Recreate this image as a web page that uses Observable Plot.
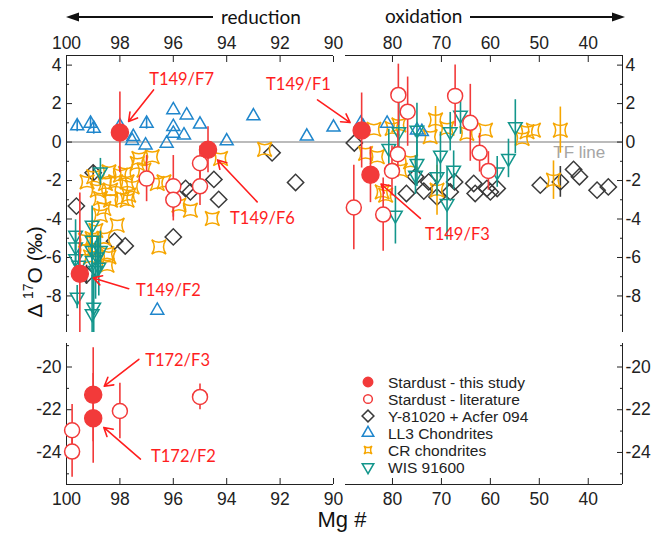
<!DOCTYPE html>
<html><head><meta charset="utf-8">
<script src="https://cdn.jsdelivr.net/npm/d3@7"></script>
<script src="https://cdn.jsdelivr.net/npm/@observablehq/plot@0.6"></script>
<style>
body{margin:0;background:#fff;}
#chart{position:relative;width:654px;height:534px;background:#fff;}
#chart svg{position:absolute;left:0;top:0;}
</style></head><body><div id="chart"></div>
<script>
// ---------- axis domains & ticks ----------
const xLeftDomain = [100, 90];
const xRightDomain = [89.6, 33];
const yTopDomain = [-9.9, 4.5];
const yBottomDomain = [-25.5, -18.9];
const xTicksLeft = [100, 98, 96, 94, 92, 90];
const xTicksRight = [80, 70, 60, 50, 40];
const yTicksTop = [4, 2, 0, -2, -4, -6, -8];
const yMinorTop = [3, 1, -1, -3, -5, -7, -9];
const yTicksBottom = [-20, -22, -24];
const yMinorBottom = [-19, -21, -23, -25];

// ---------- data: [Mg#, Δ17O, error] ----------
const thisStudyLabels = ["T149/F7", "T149/F6", "T149/F2", "T149/F1", "T149/F3", "T172/F3", "T172/F2"];
const thisStudy = [
  [98.0, 0.5, 2.1], [94.7, -0.4, 1.2], [99.5, -6.85, 4.2], [86.3, 0.6, 1.95],
  [84.5, -1.7, 1.45], [99.0, -21.3, 2.2], [99.0, -22.4, 2.1]
];
const literature = [
  [97.0, -1.9, 1.2], [96.0, -2.3, 1.6], [96.0, -3.0, 1.1], [95.0, -1.1, 0.9], [95.0, -2.3, 1.0],
  [78.8, 2.45, 1.6], [76.9, 1.58, 1.8], [67.2, 2.4, 1.6], [64.1, 1.0, 2.0], [62.2, -0.56, 1.0],
  [60.4, -1.5, 1.0], [80.1, -1.5, 1.3], [78.9, -0.63, 1.2], [87.9, -3.4, 2.2], [81.9, -3.77, 1.9],
  [99.79, -22.96, 1.2], [99.79, -23.96, 1.2], [98.0, -22.06, 1.3], [95.0, -21.4, 0.6]
];
const y81020Acfer = [
  [99.63, -3.33, 0], [99.0, -1.6, 0.4], [99.25, -6.9, 0.5], [98.2, -5.15, 0], [97.8, -5.4, 0],
  [96.0, -4.93, 0], [95.54, -2.41, 0], [95.36, -2.59, 0], [94.48, -1.94, 0], [94.3, -2.98, 0],
  [92.3, -0.56, 0], [91.42, -2.1, 0],
  [87.8, -0.05, 0], [77.15, -2.67, 0], [75.3, -1.8, 0], [73.6, -2.55, 0], [72.6, -2.07, 0],
  [70.9, -2.85, 0], [68.2, -2.59, 0], [67.3, -2.07, 0], [63.4, -2.15, 0], [63.1, -2.67, 0],
  [60.7, -2.41, 0], [60.0, -2.59, 0], [58.6, -2.41, 0], [49.8, -2.24, 0], [45.7, -2.07, 0.8],
  [43.0, -1.42, 0], [41.8, -1.8, 0], [38.2, -2.5, 0], [35.9, -2.33, 0]
];
const ll3 = [
  [99.6, 0.83, 0.3], [99.1, 0.97, 0.3], [98.98, 0.71, 0.3], [98.0, 0.83, 0], [97.5, 0.28, 0],
  [97.0, 0.97, 0.3], [96.0, 1.67, 0], [95.5, 1.4, 0], [95.0, 0.92, 0], [96.0, 0.8, 0],
  [96.0, 0.45, 0], [95.6, 0.36, 0], [93.0, 1.35, 0], [94.0, 0.05, 0], [91.0, 0.3, 0],
  [90.0, 0.77, 0], [97.54, 0.07, 0], [97.04, -0.16, 0], [96.25, -0.07, 0], [96.6, -8.75, 0],
  [86.5, 0.97, 0], [86.0, 0.8, 0], [81.1, 0.97, 0], [75.0, 0.62, 0], [74.0, 0.54, 0]
];
const crChondrites = [
  [99.23, -2.07, 0], [98.98, -1.8, 0], [98.85, -2.5, 0], [98.54, -2.15, 0], [98.35, -2.5, 0],
  [98.16, -2.07, 0], [97.98, -1.72, 0], [97.73, -2.07, 0], [97.54, -2.33, 0], [97.35, -1.11, 0],
  [97.1, -1.46, 0], [96.79, -0.76, 0], [98.73, -2.93, 0], [98.35, -3.02, 0], [97.91, -2.93, 0],
  [97.73, -3.02, 0], [98.6, -3.45, 0], [98.73, -3.8, 0], [98.1, -4.32, 0], [98.98, -5.6, 0],
  [99.29, -5.6, 0], [99.1, -5.97, 0], [98.48, -6.4, 0], [98.41, -5.97, 0], [99.29, -5.1, 0],
  [96.54, -5.45, 0], [98.41, -1.55, 0], [97.79, -1.63, 0], [97.29, -0.85, 0], [97.67, -2.76, 0],
  [96.6, -2.15, 0], [96.35, -2.07, 0], [95.79, -3.28, 0], [95.36, -3.54, 0], [94.54, -3.97, 0],
  [94.23, -0.85, 0], [92.58, -0.38, 0], [98.48, -5.8, 0], [99.04, -5.02, 0], [98.9, -4.6, 0],
  [98.6, -5.0, 0],
  [83.8, 0.66, 0], [80.07, 0.71, 0], [71.2, 1.15, 0.7], [68.85, 0.71, 0], [61.0, 0.62, 0],
  [52.5, 0.54, 0], [51.2, 0.62, 0], [45.7, 0.62, 1.2], [78.7, 0.89, 0], [85.5, -0.59, 0],
  [83.1, -0.76, 0], [82.1, -2.59, 0], [81.4, -2.76, 0], [78.4, -1.46, 0], [76.3, -1.02, 0],
  [70.9, -2.5, 1.3], [72.3, 0.28, 0], [64.8, 0.45, 0], [53.5, 0.19, 0], [47.1, -1.98, 1.0]
];
const wis91600 = [
  [98.73, -1.55, 0.7], [99.66, -4.84, 0.8], [99.66, -5.45, 0.8], [99.66, -6.06, 0.8], [99.54, -6.4, 0.8],
  [99.04, -4.32, 1.0], [99.04, -5.1, 1.0], [99.04, -5.63, 1.0], [99.04, -6.15, 1.0], [98.85, -5.97, 1.0],
  [98.79, -6.5, 1.5], [98.91, -6.67, 1.5], [98.73, -5.63, 1.0], [99.6, -8.06, 0.6], [99.04, -8.92, 2.0],
  [98.98, -8.58, 2.0],
  [78.7, 0.54, 1.5], [75.0, 0.62, 1.4], [68.2, 0.54, 1.0], [66.1, 1.4, 1.0], [54.9, 0.8, 1.4],
  [80.75, -0.33, 1.0], [75.0, -1.11, 1.2], [75.3, -1.72, 1.0], [70.2, -0.68, 1.2], [70.9, -1.8, 1.0],
  [67.5, -1.46, 1.0], [68.85, -3.19, 1.9], [79.4, -3.8, 1.5], [58.6, -1.55, 0.8], [56.3, -0.85, 1.0]
];
// annotation: label, text position, arrow tail (data units)
const annotations = [
  {label: "T149/F7", tx: 95.69, ty: 3.23, ax: 96.74, ay: 2.71},
  {label: "T149/F1", tx: 91.31, ty: 2.97, ax: 90.6, ay: 2.19},
  {label: "T149/F6", tx: 92.66, ty: -3.96, ax: 92.86, ay: -3.11},
  {label: "T149/F2", tx: 96.18, ty: -7.71, ax: 97.67, ay: -7.62},
  {label: "T149/F3", tx: 66.74, ty: -4.84, ax: 74.3, ay: -3.97},
  {label: "T172/F3", tx: 95.84, ty: -19.72, ax: 97.29, ay: -19.64},
  {label: "T172/F2", tx: 95.62, ty: -24.21, ax: 97.23, ay: -24.31}
];
const tfLabel = {text: "TF line", x: 47.15, y: -0.52};

// ---------- styles ----------
const red = "#f23a3a", redText = "#ff1e1e", blue = "#1f86cc", orange = "#f6a600",
      teal = "#13968c", dark = "#3a3a3a", gray = "#a5a5a5", axisColor = "#222";

const rows = a => a.map(([mg, d, e]) => ({mg, d, e}));
const S = {
  thisStudy: rows(thisStudy).map((r, i) => ({...r, label: thisStudyLabels[i]})),
  lit: rows(literature), dia: rows(y81020Acfer), ll3: rows(ll3), cr: rows(crChondrites), wis: rows(wis91600)
};
const inTop = d => d > yTopDomain[0];
const lo = r => Math.max(r.d - r.e, inTop(r.d) ? yTopDomain[0] : yBottomDomain[0]);
const hi = r => Math.min(r.d + r.e, inTop(r.d) ? yTopDomain[1] : yBottomDomain[1]);
const errBars = (data, color) => Plot.ruleX(data.filter(r => r.e > 0), {x: "mg", y1: lo, y2: hi, stroke: color, strokeWidth: 1.6});

const concaveSquare = {
  draw(ctx, size) {
    const h = Math.sqrt(size) * 0.62, c = h * 0.3;
    ctx.moveTo(-h, -h);
    ctx.quadraticCurveTo(0, -c, h, -h);
    ctx.quadraticCurveTo(c, 0, h, h);
    ctx.quadraticCurveTo(0, c, -h, h);
    ctx.quadraticCurveTo(-c, 0, -h, -h);
    ctx.closePath();
  }
};

const targetOf = label => S.thisStudy.find(r => r.label === label);
const annFont = "Lato, 'Noto Sans', sans-serif";
const fmt = d => String(d); // hyphen-minus like the reference

const chart = Plot.plot({
  width: 654, height: 534,
  marginTop: 55, marginRight: 32, marginBottom: 50, marginLeft: 66,
  style: {fontFamily: "'Liberation Sans', Arial, sans-serif", fontSize: "17.5px", background: "transparent", overflow: "visible"},
  x: {type: "linear", domain: [...xLeftDomain, ...xRightDomain], range: [66, 333, 345, 622], axis: null},
  y: {type: "linear", domain: [...yBottomDomain, ...yTopDomain], range: [484, 343, 332, 55], axis: null},
  marks: [
    // TF line
    Plot.ruleY([0], {x1: xLeftDomain[0], x2: xRightDomain[1], stroke: gray, strokeWidth: 1.6}),
    Plot.text([tfLabel], {x: "x", y: "y", text: "text", fill: gray, fontSize: 17, textAnchor: "start"}),
    // frame lines
    Plot.ruleY([yTopDomain[1], yBottomDomain[0]], {x1: xLeftDomain[0], x2: xLeftDomain[1], stroke: axisColor}),
    Plot.ruleY([yTopDomain[1], yBottomDomain[0]], {x1: xRightDomain[0], x2: xRightDomain[1], stroke: axisColor}),
    Plot.ruleX([xLeftDomain[0], xRightDomain[1]], {y1: yTopDomain[0], y2: yTopDomain[1], stroke: axisColor}),
    Plot.ruleX([xLeftDomain[0], xRightDomain[1]], {y1: yBottomDomain[0], y2: yBottomDomain[1], stroke: axisColor}),
    // axes
    Plot.axisX([...xTicksLeft, ...xTicksRight], {anchor: "top", tickSize: -6, tickPadding: 13, label: null, color: axisColor, fontSize: 17.5, tickFormat: fmt}),
    Plot.axisX([...xTicksLeft, ...xTicksRight], {anchor: "bottom", tickSize: -6, tickPadding: 14, label: null, color: axisColor, fontSize: 17.5, tickFormat: fmt}),
    Plot.axisY([...yTicksTop, ...yTicksBottom], {anchor: "left", tickSize: -6, tickPadding: 11, label: null, color: axisColor, fontSize: 17.5, tickFormat: fmt}),
    Plot.axisY([...yTicksTop, ...yTicksBottom], {anchor: "right", tickSize: -6, tickPadding: 9, label: null, color: axisColor, fontSize: 17.5, tickFormat: fmt}),
    Plot.axisY([...yMinorTop, ...yMinorBottom], {anchor: "left", tickSize: -3, tickFormat: () => "", label: null, color: axisColor}),
    Plot.axisY([...yMinorTop, ...yMinorBottom], {anchor: "right", tickSize: -3, tickFormat: () => "", label: null, color: axisColor}),
    // Y-81020 + Acfer 094
    errBars(S.dia, dark),
    Plot.dot(S.dia, {x: "mg", y: "d", symbol: "square", rotate: 45, r: 6.5, stroke: dark, fill: "none", strokeWidth: 1.5}),
    // CR chondrites
    errBars(S.cr, orange),
    Plot.dot(S.cr, {x: "mg", y: "d", symbol: concaveSquare, r: 6.5, stroke: orange, fill: "none", strokeWidth: 1.5}),
    // LL3
    errBars(S.ll3, blue),
    Plot.dot(S.ll3, {x: "mg", y: "d", symbol: "triangle2", r: 6.2, stroke: blue, fill: "none", strokeWidth: 1.5}),
    // WIS 91600
    errBars(S.wis, teal),
    Plot.dot(S.wis, {x: "mg", y: "d", symbol: "triangle2", rotate: 180, r: 6.5, stroke: teal, fill: "none", strokeWidth: 1.5}),
    // Stardust literature
    errBars(S.lit, red),
    Plot.dot(S.lit, {x: "mg", y: "d", r: 7.5, stroke: red, fill: "white", strokeWidth: 1.5}),
    // Stardust this study
    errBars(S.thisStudy, red),
    Plot.dot(S.thisStudy, {x: "mg", y: "d", r: 8.5, fill: red, stroke: red}),
    // annotations
    Plot.arrow(annotations, {
      x1: "ax", y1: "ay",
      x2: a => targetOf(a.label).mg, y2: a => targetOf(a.label).d,
      insetEnd: 14, stroke: redText, strokeWidth: 1.6, headLength: 9
    }),
    Plot.text(annotations, {x: "tx", y: "ty", text: "label", fill: redText, fontSize: 16.5, fontFamily: annFont})
  ]
});
document.getElementById("chart").appendChild(chart);

// ---------- overlay: direction arrows, axis titles, legend ----------
const ov = d3.select("#chart").append("svg")
  .attr("width", 654).attr("height", 534)
  .style("pointer-events", "none");
const sans = "'Liberation Sans', Arial, sans-serif";
const lato = "Lato, 'Noto Sans', sans-serif";
// reduction arrow
ov.append("line").attr("x1", 76).attr("x2", 213).attr("y1", 17).attr("y2", 17).attr("stroke", "#111").attr("stroke-width", 2);
ov.append("path").attr("d", "M66,17 L79,12.5 L79,21.5 Z").attr("fill", "#111");
ov.append("text").attr("x", 221).attr("y", 24).attr("font-family", lato).attr("font-size", 19).attr("fill", "#111").text("reduction");
// oxidation arrow
ov.append("text").attr("x", 385).attr("y", 23).attr("font-family", lato).attr("font-size", 19).attr("fill", "#111").text("oxidation");
ov.append("line").attr("x1", 470).attr("x2", 615).attr("y1", 17).attr("y2", 17).attr("stroke", "#111").attr("stroke-width", 2);
ov.append("path").attr("d", "M625,17 L612,12.5 L612,21.5 Z").attr("fill", "#111");
// x title
ov.append("text").attr("x", 342).attr("y", 527).attr("text-anchor", "middle").attr("font-family", sans).attr("font-size", 22).attr("fill", "#111").text("Mg #");
// y title
const yt = ov.append("text").attr("transform", "translate(42,272) rotate(-90)").attr("text-anchor", "middle")
  .attr("font-family", sans).attr("font-size", 21).attr("fill", "#111");
yt.append("tspan").text("Δ ");
yt.append("tspan").attr("dy", -9).attr("font-size", 14).text("17");
yt.append("tspan").attr("dy", 9).text("O (‰)");

// legend
const legendItems = [
  {label: "Stardust - this study", type: d3.symbolCircle, size: 70, fill: red, stroke: red, rot: 0},
  {label: "Stardust - literature", type: d3.symbolCircle, size: 60, fill: "none", stroke: red, rot: 0},
  {label: "Y-81020 + Acfer 094", type: d3.symbolSquare, size: 70, fill: "none", stroke: dark, rot: 45},
  {label: "LL3 Chondrites", type: d3.symbolTriangle2, size: 95, fill: "none", stroke: blue, rot: 0},
  {label: "CR chondrites", type: concaveSquare, size: 40, fill: "none", stroke: orange, rot: 0},
  {label: "WIS 91600", type: d3.symbolTriangle2, size: 95, fill: "none", stroke: teal, rot: 180}
];
const lg = ov.append("g");
legendItems.forEach((it, i) => {
  const y = 382 + i * 17;
  lg.append("path").attr("d", d3.symbol(it.type, it.size)())
    .attr("transform", `translate(368,${y}) rotate(${it.rot})`)
    .attr("fill", it.fill).attr("stroke", it.stroke).attr("stroke-width", 1.5);
  lg.append("text").attr("x", 388).attr("y", y + 5.5).attr("font-family", sans).attr("font-size", 15.5).attr("fill", "#222").text(it.label);
});
</script></body></html>
